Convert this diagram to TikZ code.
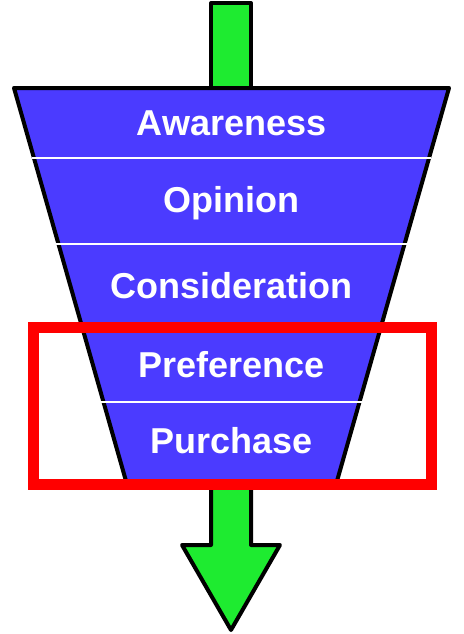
\documentclass[tikz,border=0pt]{standalone}
\usepackage{fontspec}
\setmainfont{Liberation Sans}
\usetikzlibrary{calc}

\definecolor{funnelblue}{RGB}{75,59,255}
\definecolor{flowgreen}{RGB}{30,235,48}
\definecolor{markred}{RGB}{255,0,0}

\begin{document}
\begin{tikzpicture}[
    x=1pt, y=-1pt,
    % Style for the funnel body
    funnel/.style={
        fill=funnelblue,
        draw=black,
        line width=4pt,
        line join=round
    },
    % Style for the green flow arrows
    flow/.style={
        fill=flowgreen,
        draw=black,
        line width=4pt,
        line join=round
    },
    % Style for the white lines between stages
    divider/.style={
        draw=white,
        line width=2pt
    },
    % Style for the stage names
    stage/.style={
        anchor=base,
        text=white,
        font=\fontsize{36}{40}\selectfont\bfseries
    }
]
\useasboundingbox (0,0) rectangle (463,634);

% --- Draw incoming arrow shaft ---
\draw[flow] (211,3) rectangle (251,90);

% --- Draw Funnel ---
\coordinate (tl) at (14,88);
\coordinate (tr) at (449,88);
\coordinate (bl) at (126,481);
\coordinate (br) at (337,481);
\draw[funnel] (tl) -- (tr) -- (br) -- (bl) -- cycle;

% --- Lines between the stages ---
\foreach \y in {158,244,325,402} {
    \draw[divider] ($(tl)!{(\y-88)/393}!(bl)+(-2,0)$) -- ($(tr)!{(\y-88)/393}!(br)+(2,0)$);
}

% --- Stage names ---
\node[stage] (awareness) at (231.5,135) {Awareness};
\node[stage] (opinion) at (231.5,212) {Opinion};
\node[stage] (consideration) at (231.5,298) {Consideration};
\node[stage] (preference) at (231.5,377) {Preference};
\node[stage] (purchase) at (231.5,453) {Purchase};

% --- Draw outgoing arrow ---
\draw[flow] (211,482) -- (211,545) -- (182,545) -- (231,630)
    -- (280,545) -- (251,545) -- (251,482) -- cycle;

% --- Highlight of the last two stages ---
\draw[markred, line width=11pt] (33.5,327.5) rectangle (431,484);

\end{tikzpicture}
\end{document}
